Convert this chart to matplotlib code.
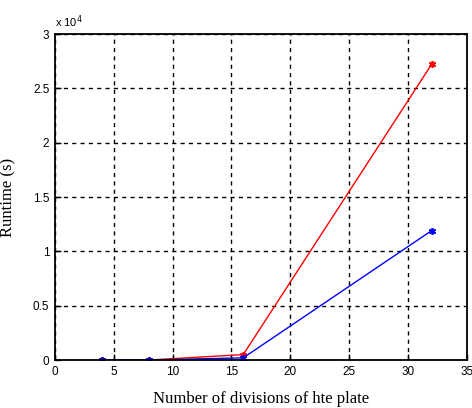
import matplotlib
matplotlib.use("Agg")
import matplotlib.pyplot as plt

# runtime vs. number of divisions for the two solvers
div_red = [4, 8, 16, 32]
time_red = [0, 0, 500, 27200]
div_blue = [4, 8, 16, 32]
time_blue = [0, 0, 200, 11900]

xticks = [0, 5, 10, 15, 20, 25, 30, 35]
yticks = [0, 5000, 10000, 15000, 20000, 25000, 30000]
ytick_labels = ["0", "0.5", "1", "1.5", "2", "2.5", "3"]

asterisk = (6, 2, 0)

fig = plt.figure(figsize=(4.72, 4.08), dpi=100)
ax = fig.add_axes([0.1165, 0.1176, 0.8725, 0.799])

ax.plot(div_red, time_red, color="red", lw=1, marker=asterisk, ms=5, mew=1.2)
ax.plot(div_blue, time_blue, color="blue", lw=1, marker=asterisk, ms=5, mew=1.2)

ax.set_xlim(0, 35)
ax.set_ylim(0, 30000)
ax.set_xticks(xticks)
ax.set_yticks(yticks)
ax.set_yticklabels(ytick_labels)
ax.tick_params(direction="in", labelsize=8.5, length=4, width=1, pad=4)
for lbl in ax.get_xticklabels() + ax.get_yticklabels():
    lbl.set_family("Liberation Sans")

ax.grid(True, color="black", linestyle=(0, (3, 3)), lw=1)
for sp in ax.spines.values():
    sp.set_linewidth(1.3)

ax.text(0.0, 1.012, r"x 10$^4$", transform=ax.transAxes, fontsize=8,
        family="Liberation Sans", va="bottom", ha="left")

ax.set_xlabel("Number of divisions of hte plate", family="Liberation Serif",
              fontsize=12, labelpad=10)
ax.set_ylabel("Runtime (s)", family="Liberation Serif", fontsize=12, labelpad=12)

fig.savefig("out.png", dpi=100)
